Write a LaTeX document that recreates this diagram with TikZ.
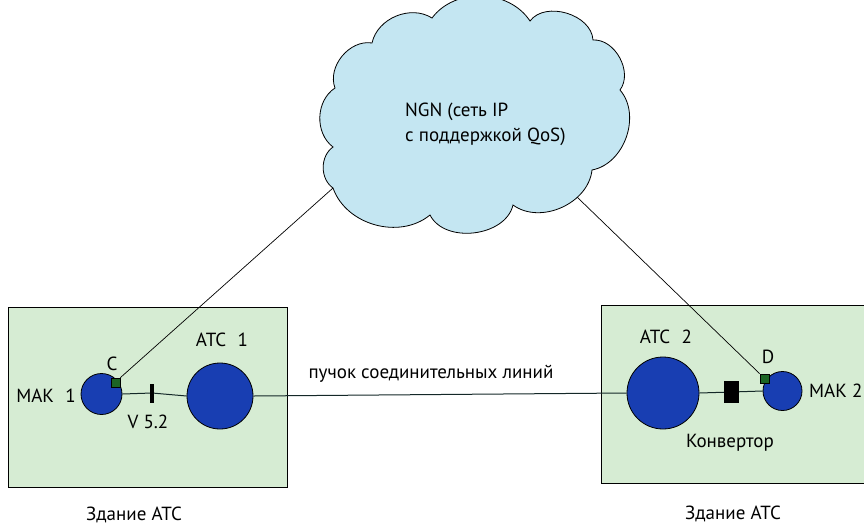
\documentclass[tikz,border=0pt]{standalone}
\usepackage{fontspec}
\setmainfont{PT Sans}
\definecolor{boxgreen}{RGB}{214,236,211}
\definecolor{cloudblue}{RGB}{196,230,242}
\definecolor{circblue}{RGB}{24,62,178}
\definecolor{sqgreen}{RGB}{28,100,36}
\definecolor{linedark}{RGB}{20,40,40}
\tikzset{
  building/.style={draw=black, line width=1pt, fill=boxgreen},
  circ/.style={circle, draw=black, line width=0.8pt, fill=circblue, inner sep=0pt},
  port/.style={rectangle, draw=black, line width=0.6pt, fill=sqgreen, minimum size=9pt, inner sep=0pt},
  blk/.style={rectangle, fill=black, inner sep=0pt},
  lbl/.style={font=\fontsize{19}{23}\selectfont, inner sep=0pt},
  wire/.style={draw=linedark, line width=1pt},
  link/.style={draw=black, line width=0.7pt},
}
\begin{document}
\begin{tikzpicture}[x=1pt, y=-1pt]
\useasboundingbox (0,0) rectangle (864,528);
\fill[white] (0,0) rectangle (864,528);
% buildings
\draw[building] (8,307) rectangle (287,487);
\draw[building] (601,305) rectangle (880,483);
% cloud
\coordinate (a1) at (333,188);
\coordinate (a2) at (333,147);
\coordinate (a3) at (335,88);
\coordinate (a4) at (372,43);
\coordinate (a5) at (432,18);
\coordinate (a6) at (530,21);
\coordinate (a7) at (593,40);
\coordinate (a8) at (620,90);
\coordinate (a9) at (592,170);
\coordinate (a10) at (513,205);
\coordinate (a11) at (430,215);
\draw[fill=cloudblue, line width=0.8pt]
  (a1) to[bend left=55] (a2) to[bend left=55] (a3) to[bend left=60] (a4)
  to[bend left=55] (a5) to[bend left=55] (a6) to[bend left=70] (a7)
  to[bend left=65] (a8) to[bend left=60] (a9) to[bend left=60] (a10)
  to[bend left=70] (a11) to[bend left=55] cycle;
\node[lbl, align=left, anchor=north west] (ngn) at (405,103)
  {NGN (сеть IP\\[2pt]с поддержкой QoS)};
% nodes
\node[circ, minimum size=41pt] (mak1) at (101.5,394) {};
\node[circ, minimum size=66pt] (atc1) at (220,396) {};
\node[circ, minimum size=72pt] (atc2) at (663,393) {};
\node[circ, minimum size=39pt] (mak2) at (782.5,391) {};
\node[blk, minimum width=3.5pt, minimum height=19pt] (v52) at (152,393) {};
\node[blk, minimum width=15pt, minimum height=22pt] (conv) at (731.5,392) {};
% wires
\draw[wire] (mak1.east) -- (v52) -- (atc1.west);
\draw[wire] (atc1.east) -- (atc2.west);
\draw[wire] (atc2.east) -- (conv) -- (mak2.west);
\node[port] (c) at (115.5,382.5) {};
\node[port] (d) at (764.5,378.5) {};
\draw[link] (c.north east) -- (a1);
\coordinate (cr) at (577,197);
\draw[link] (cr) -- (d.north west);
% labels
\node[lbl] (lmak1) at (46,396) {МАК\hspace{0.6em}1};
\node[lbl] (lc) at (112,364) {C};
\node[lbl] (latc1) at (222,340) {АТС\hspace{0.6em}1};
\node[lbl] (lv) at (148,422) {V 5.2};
\node[lbl] (lbund) at (431,374) {пучок соединительных линий};
\node[lbl] (latc2) at (666,337) {АТС\hspace{0.6em}2};
\node[lbl] (ld) at (768,357) {D};
\node[lbl, anchor=west] (lmak2) at (809,391) {МАК 2};
\node[lbl] (lconv) at (730,443) {Конвертор};
\node[lbl] (lb1) at (134,515) {Здание АТС};
\node[lbl] (lb2) at (733,514) {Здание АТС};
\end{tikzpicture}
\end{document}
